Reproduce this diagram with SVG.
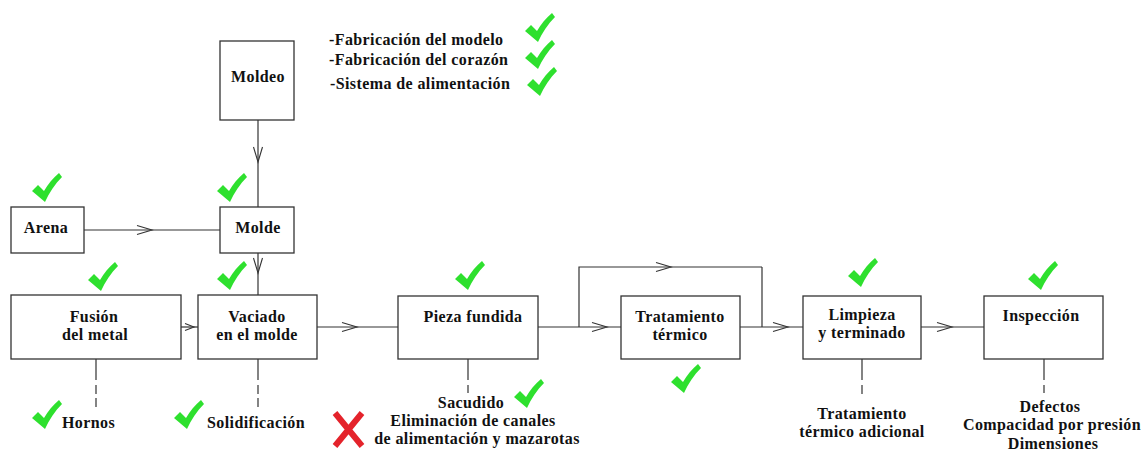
<svg xmlns="http://www.w3.org/2000/svg" xmlns:xlink="http://www.w3.org/1999/xlink" width="1147" height="453" viewBox="0 0 1147 453">
<style>
.box{fill:#fff;stroke:#333;stroke-width:1.3}
.ln{fill:none;stroke:#333;stroke-width:1.2}
.dd{fill:none;stroke:#333;stroke-width:1.2;stroke-dasharray:21 5 9 4 9 4}
.t{font-family:"Liberation Serif","Times New Roman",serif;font-weight:bold;font-size:16px;letter-spacing:0.4px;fill:#111}
.c{text-anchor:middle}
.ck{fill:#2ee02e}
.x{stroke:#e4232b;stroke-width:6;fill:none}
</style>
<defs>
<marker id="chev" markerUnits="userSpaceOnUse" markerWidth="16" markerHeight="10" refX="15" refY="4.5" orient="auto" overflow="visible">
<path d="M0,0 L15,4.5 L0,9" fill="none" stroke="#333" stroke-width="1.1"/>
</marker>
<marker id="chevS" markerUnits="userSpaceOnUse" markerWidth="10" markerHeight="8" refX="9" refY="3.5" orient="auto" overflow="visible">
<path d="M0,0 L9,3.5 L0,7" fill="none" stroke="#333" stroke-width="1.1"/>
</marker>
<path id="ck" class="ck" d="M0,19 L6,13 L12,19 C16,12 21,6 27,1 L30,5 C23,12 17,21 13,30 Z"/>
</defs>
<rect width="1147" height="453" fill="#fff"/>

<g id="connectors">
<path class="ln" d="M84,230 L152,230 L220,230" marker-mid="url(#chev)"/>
<path class="ln" d="M258,120 L258,162 L258,207" marker-mid="url(#chev)"/>
<path class="ln" d="M258,253 L258,273 L258,295" marker-mid="url(#chev)"/>
<path class="ln" d="M181,327 L194,327 L198,327" marker-mid="url(#chevS)"/>
<path class="ln" d="M317,327 L357,327 L398,327" marker-mid="url(#chev)"/>
<path class="ln" d="M538,327 L579,327"/>
<path class="ln" d="M579,327 L607,327 L621,327" marker-mid="url(#chev)"/>
<path class="ln" d="M579,327 L579,267 L657,267"/>
<path class="ln" d="M657,267 L671,267 L762,267" marker-mid="url(#chev)"/>
<path class="ln" d="M762,267 L762,327"/>
<path class="ln" d="M740,327 L788,327 L803,327" marker-mid="url(#chev)"/>
<path class="ln" d="M921,327 L952,327 L984,327" marker-mid="url(#chev)"/>
<path class="dd" d="M96,359 L96,407"/>
<path class="dd" d="M258,359 L258,407"/>
<path class="dd" d="M468,359 L468,393"/>
<path class="dd" d="M862,359 L862,397"/>
<path class="dd" d="M1044,359 L1044,393"/>
</g>

<g id="moldeo">
<rect class="box" x="220" y="41" width="74" height="79"/>
<text class="t c" x="258" y="82">Moldeo</text>
</g>
<g id="lista">
<text class="t" x="329" y="45">-Fabricación del modelo</text>
<text class="t" x="329" y="65">-Fabricación del corazón</text>
<text class="t" x="330" y="89">-Sistema de alimentación</text>
<use href="#ck" x="525" y="12"/>
<use href="#ck" x="525" y="39"/>
<use href="#ck" x="527" y="66"/>
</g>
<g id="arena">
<rect class="box" x="11" y="207" width="73" height="46"/>
<text class="t c" x="46" y="233">Arena</text>
<use href="#ck" x="32" y="172"/>
</g>
<g id="molde">
<rect class="box" x="220" y="207" width="74" height="46"/>
<text class="t c" x="258" y="233">Molde</text>
<use href="#ck" x="217" y="172"/>
</g>
<g id="fusion">
<rect class="box" x="11" y="295" width="170" height="64"/>
<text class="t c" x="94" y="322">Fusión</text>
<text class="t c" x="95" y="340">del metal</text>
<use href="#ck" x="88" y="261"/>
</g>
<g id="vaciado">
<rect class="box" x="198" y="295" width="119" height="64"/>
<text class="t c" x="257" y="322">Vaciado</text>
<text class="t c" x="257" y="340">en el molde</text>
<use href="#ck" x="217" y="260"/>
</g>
<g id="pieza">
<rect class="box" x="398" y="296" width="140" height="63"/>
<text class="t c" x="473" y="322">Pieza fundida</text>
<use href="#ck" x="455" y="260"/>
</g>
<g id="tratamiento">
<rect class="box" x="621" y="296" width="119" height="63"/>
<text class="t c" x="680" y="322">Tratamiento</text>
<text class="t c" x="680" y="340">térmico</text>
<use href="#ck" x="671" y="363"/>
</g>
<g id="limpieza">
<rect class="box" x="803" y="296" width="118" height="63"/>
<text class="t c" x="862" y="320">Limpieza</text>
<text class="t c" x="862" y="338">y terminado</text>
<use href="#ck" x="848" y="257"/>
</g>
<g id="inspeccion">
<rect class="box" x="984" y="296" width="119" height="63"/>
<text class="t c" x="1041" y="321">Inspección</text>
<use href="#ck" x="1028" y="260"/>
</g>
<g id="hornos">
<use href="#ck" x="32" y="399"/>
<text class="t" x="62" y="428">Hornos</text>
</g>
<g id="solidificacion">
<use href="#ck" x="174" y="399"/>
<text class="t" x="207" y="428">Solidificación</text>
</g>
<g id="sacudido">
<text class="t c" x="471" y="408">Sacudido</text>
<text class="t c" x="473" y="426">Eliminación de canales</text>
<text class="t c" x="477" y="444">de alimentación y mazarotas</text>
<use href="#ck" x="514" y="378"/>
<path class="x" d="M335,413 L362,446 M362,413 L335,446"/>
</g>
<g id="trat-adicional">
<text class="t c" x="862" y="419">Tratamiento</text>
<text class="t c" x="862" y="437">térmico adicional</text>
</g>
<g id="defectos">
<text class="t c" x="1050" y="412">Defectos</text>
<text class="t c" x="1052" y="430">Compacidad por presión</text>
<text class="t c" x="1053" y="449">Dimensiones</text>
</g>
</svg>
